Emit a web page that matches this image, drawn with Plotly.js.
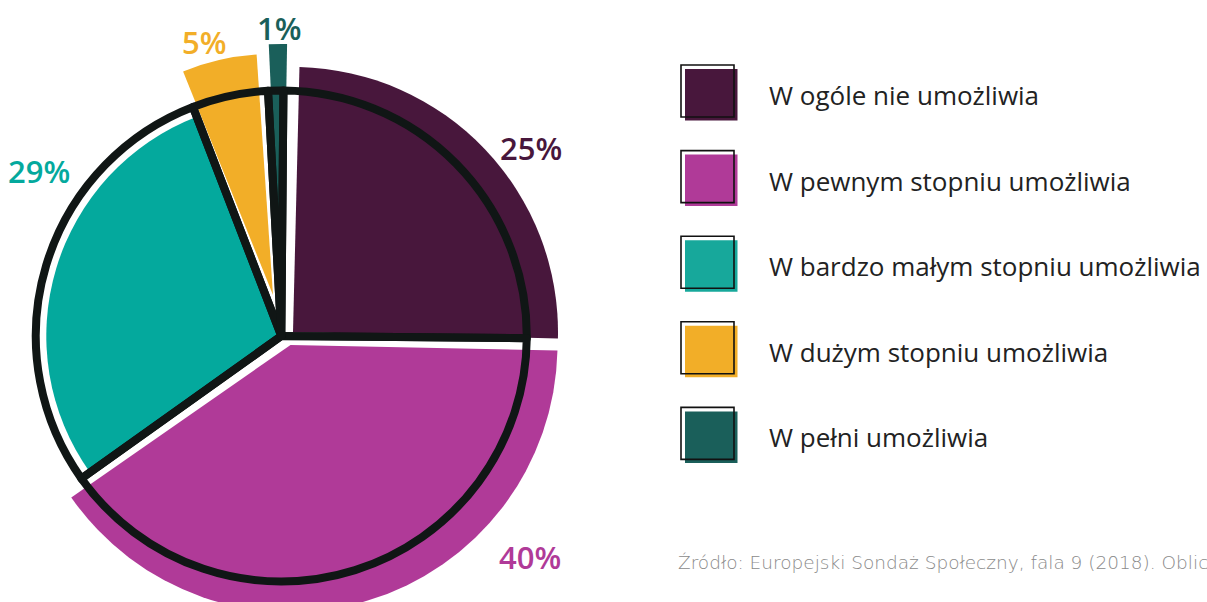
<!DOCTYPE html>
<html>
<head>
<meta charset="utf-8">
<script src="https://cdn.plot.ly/plotly-3.0.1.min.js"></script>
<style>
html,body{margin:0;padding:0;overflow:hidden;background:#ffffff;width:1207px;height:602px}
#wrap{position:relative;width:1207px;height:602px;overflow:hidden;background:#fff}
#chart{position:absolute;left:-60px;top:-60px;width:1327px;height:722px}
</style>
</head>
<body>
<div id="wrap"><div id="chart"></div></div>
<script>
// ---- data ----
const categories = [
  'W ogóle nie umożliwia',
  'W pewnym stopniu umożliwia',
  'W bardzo małym stopniu umożliwia',
  'W dużym stopniu umożliwia',
  'W pełni umożliwia'
];
const values = [25, 40, 29, 5, 1];
const percentLabels = values.map(v => v + '%');
const sourceNote = 'Źródło: Europejski Sondaż Społeczny, fala 9 (2018). Obliczenia własne.';

// ---- styles ----
const colors = ['#48173c', '#b03a98', '#04a99d', '#f2ae28', '#1a5f5a'];
const legendColors = ['#48173c', '#b03a98', '#17a89b', '#f2ae28', '#1a5f5a'];
const ringColor = '#101615';
const CLEAR = 'rgba(0,0,0,0)';

// ---- geometry (screen px of the 1207x602 view) ----
const OX = 60, OY = 60, FW = 1207 + 2 * OX, FH = 602 + 2 * OY;
const ring = {cx: 281.3, cy: 336, r: 245.5, rot: 0.5};
const sliceGeom = [
  {cx: 293,   cy: 332, r: 265, rot: 1.4},
  {cx: 290.5, cy: 345, r: 267, rot: 1.2},
  {cx: 281.3, cy: 336, r: 235, rot: 0.5},
  {cx: 273,   cy: 295, r: 241, rot: -0.3},
  {cx: 282,   cy: 336, r: 292, rot: 1.0}
];
const labelPos = [[531, 148], [530, 557], [39, 171], [204, 42], [279, 28]];

const px = x => (x + OX) / FW;
const py = y => 1 - (y + OY) / FH;
function domainFor(g) {
  return {x: [px(g.cx - g.r), px(g.cx + g.r)], y: [py(g.cy + g.r), py(g.cy - g.r)]};
}

const traces = [];
categories.forEach((c, i) => {
  const g = sliceGeom[i];
  traces.push({
    type: 'pie',
    labels: categories,
    values: values,
    sort: false,
    direction: 'clockwise',
    rotation: g.rot,
    domain: domainFor(g),
    marker: {colors: colors.map((col, j) => j === i ? col : CLEAR), line: {width: 0}},
    textinfo: 'none',
    hoverinfo: 'label+percent',
    showlegend: false
  });
});
traces.push({
  type: 'pie',
  labels: categories,
  values: values,
  sort: false,
  direction: 'clockwise',
  rotation: ring.rot,
  domain: domainFor(ring),
  marker: {colors: values.map(() => CLEAR), line: {color: ringColor, width: 8}},
  textinfo: 'none',
  hoverinfo: 'skip',
  showlegend: false
});

const annotations = [];
const shapes = [];
percentLabels.forEach((t, i) => {
  annotations.push({
    xref: 'paper', yref: 'paper', x: px(labelPos[i][0]), y: py(labelPos[i][1]),
    xanchor: 'center', yanchor: 'middle', showarrow: false, text: t,
    font: {family: 'Open Sans, sans-serif', size: 31, weight: 600, color: colors[i]}
  });
});

const LEG_TOP = 65, LEG_STEP = 85.6;
categories.forEach((c, i) => {
  const top = LEG_TOP + LEG_STEP * i;
  shapes.push({
    type: 'rect', xref: 'paper', yref: 'paper', layer: 'above',
    x0: px(685), x1: px(737.5), y0: py(top + 4), y1: py(top + 55.5),
    fillcolor: legendColors[i], line: {width: 0}
  });
  shapes.push({
    type: 'rect', xref: 'paper', yref: 'paper', layer: 'above',
    x0: px(681), x1: px(734), y0: py(top), y1: py(top + 52),
    fillcolor: CLEAR, line: {color: '#111', width: 1.6}
  });
  annotations.push({
    xref: 'paper', yref: 'paper', x: px(767), y: py(top + 30),
    xanchor: 'left', yanchor: 'middle', showarrow: false, text: c,
    font: {family: 'Open Sans, sans-serif', size: 26, color: '#222222'}
  });
});

annotations.push({
  xref: 'paper', yref: 'paper', x: px(676), y: py(562),
  xanchor: 'left', yanchor: 'middle', showarrow: false, text: sourceNote,
  font: {family: 'DejaVu Sans, sans-serif', size: 18.5, weight: 200, color: '#8a8a8a'}
});

const layout = {
  width: FW, height: FH,
  margin: {l: 0, r: 0, t: 0, b: 0},
  paper_bgcolor: '#ffffff',
  showlegend: false,
  annotations: annotations,
  shapes: shapes
};

Plotly.newPlot('chart', traces, layout, {displayModeBar: false, staticPlot: false});
</script>
</body>
</html>
